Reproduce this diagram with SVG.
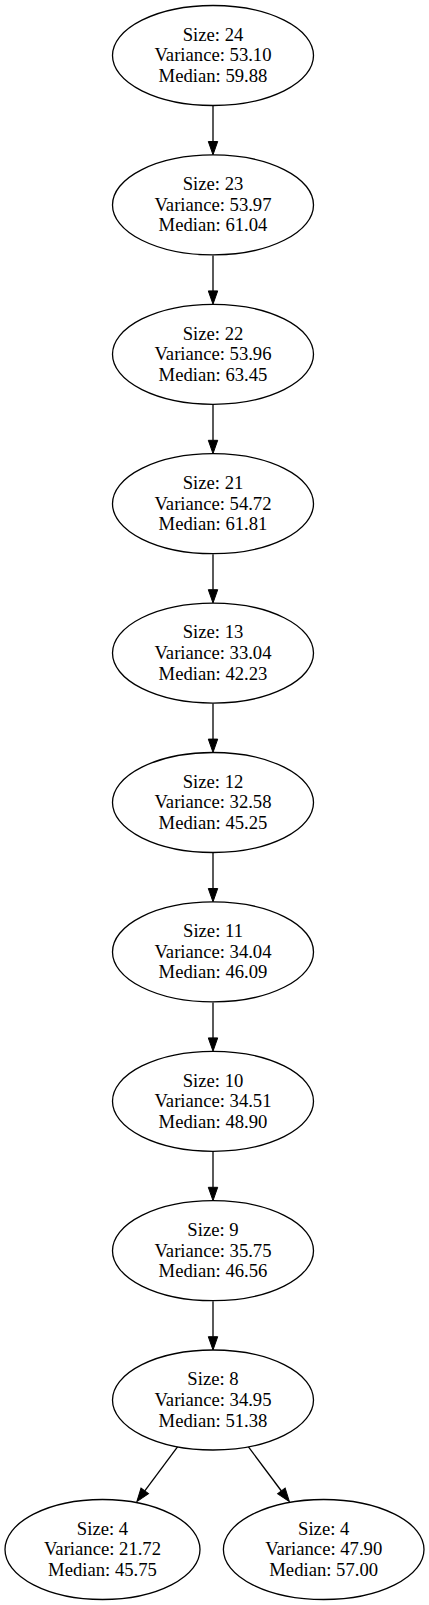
<svg xmlns="http://www.w3.org/2000/svg" width="429" height="1605" viewBox="0 0 429 1605">
<style>
.n ellipse{fill:#fff;stroke:#000;stroke-width:1.3}
.n text{font-family:"Liberation Serif","Times New Roman",serif;font-size:18.67px;text-anchor:middle;fill:#000}
.e path{fill:none;stroke:#000;stroke-width:1.3}
</style>
<defs>
<marker id="arr" markerUnits="userSpaceOnUse" markerWidth="14" markerHeight="10" refX="0" refY="4.7" orient="auto" overflow="visible">
<path d="M0,0 L13.3,4.7 L0,9.4 Z" fill="#000" stroke="#000" stroke-width="1"/>
</marker>
</defs>
<rect width="429" height="1605" fill="#fff"/>
<g class="e" id="edges">
<path d="M213,106 L213,141.5" marker-end="url(#arr)"/>
<path d="M213,255.4 L213,290.9" marker-end="url(#arr)"/>
<path d="M213,404.8 L213,440.3" marker-end="url(#arr)"/>
<path d="M213,554.2 L213,589.7" marker-end="url(#arr)"/>
<path d="M213,703.6 L213,739.1" marker-end="url(#arr)"/>
<path d="M213,853 L213,888.5" marker-end="url(#arr)"/>
<path d="M213,1002.4 L213,1037.9" marker-end="url(#arr)"/>
<path d="M213,1151.8 L213,1187.3" marker-end="url(#arr)"/>
<path d="M213,1301.2 L213,1336.7" marker-end="url(#arr)"/>
<path d="M177.7,1446.7 L144.8,1490.9" marker-end="url(#arr)"/>
<path d="M248.3,1446.7 L281.4,1491" marker-end="url(#arr)"/>
</g>
<g class="n" id="n0"><ellipse cx="213" cy="55.5" rx="100.5" ry="50"/><text x="213" y="40.7">Size: 24</text><text x="213" y="61.3">Variance: 53.10</text><text x="213" y="82">Median: 59.88</text></g>
<g class="n" id="n1"><ellipse cx="213" cy="204.9" rx="100.5" ry="50"/><text x="213" y="190.1">Size: 23</text><text x="213" y="210.7">Variance: 53.97</text><text x="213" y="231.4">Median: 61.04</text></g>
<g class="n" id="n2"><ellipse cx="213" cy="354.3" rx="100.5" ry="50"/><text x="213" y="339.5">Size: 22</text><text x="213" y="360.1">Variance: 53.96</text><text x="213" y="380.8">Median: 63.45</text></g>
<g class="n" id="n3"><ellipse cx="213" cy="503.7" rx="100.5" ry="50"/><text x="213" y="488.9">Size: 21</text><text x="213" y="509.5">Variance: 54.72</text><text x="213" y="530.2">Median: 61.81</text></g>
<g class="n" id="n4"><ellipse cx="213" cy="653.1" rx="100.5" ry="50"/><text x="213" y="638.3">Size: 13</text><text x="213" y="658.9">Variance: 33.04</text><text x="213" y="679.6">Median: 42.23</text></g>
<g class="n" id="n5"><ellipse cx="213" cy="802.5" rx="100.5" ry="50"/><text x="213" y="787.7">Size: 12</text><text x="213" y="808.3">Variance: 32.58</text><text x="213" y="829">Median: 45.25</text></g>
<g class="n" id="n6"><ellipse cx="213" cy="951.9" rx="100.5" ry="50"/><text x="213" y="937.1">Size: 11</text><text x="213" y="957.7">Variance: 34.04</text><text x="213" y="978.4">Median: 46.09</text></g>
<g class="n" id="n7"><ellipse cx="213" cy="1101.3" rx="100.5" ry="50"/><text x="213" y="1086.5">Size: 10</text><text x="213" y="1107.1">Variance: 34.51</text><text x="213" y="1127.8">Median: 48.90</text></g>
<g class="n" id="n8"><ellipse cx="213" cy="1250.7" rx="100.5" ry="50"/><text x="213" y="1235.9">Size: 9</text><text x="213" y="1256.5">Variance: 35.75</text><text x="213" y="1277.2">Median: 46.56</text></g>
<g class="n" id="n9"><ellipse cx="213" cy="1400" rx="100.5" ry="50"/><text x="213" y="1385.2">Size: 8</text><text x="213" y="1405.8">Variance: 34.95</text><text x="213" y="1426.5">Median: 51.38</text></g>
<g class="n" id="n10"><ellipse cx="102.5" cy="1549.5" rx="97.5" ry="50"/><text x="102.5" y="1534.7">Size: 4</text><text x="102.5" y="1555.3">Variance: 21.72</text><text x="102.5" y="1576">Median: 45.75</text></g>
<g class="n" id="n11"><ellipse cx="323.7" cy="1549.5" rx="100.3" ry="50"/><text x="323.7" y="1534.7">Size: 4</text><text x="323.7" y="1555.3">Variance: 47.90</text><text x="323.7" y="1576">Median: 57.00</text></g>
</svg>
